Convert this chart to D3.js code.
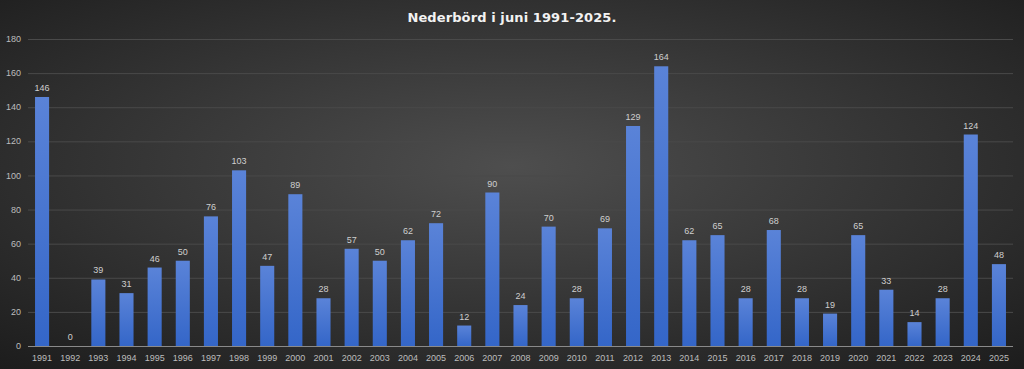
<!DOCTYPE html>
<html>
<head>
<meta charset="utf-8">
<script src="https://cdn.jsdelivr.net/npm/d3@7"></script>
<style>
  html, body { margin: 0; padding: 0; background: #222; }
  svg { display: block; }
</style>
</head>
<body>
<div id="vis"></div>
<script>
// values
const years = ["1991","1992","1993","1994","1995","1996","1997","1998","1999","2000",
  "2001","2002","2003","2004","2005","2006","2007","2008","2009","2010",
  "2011","2012","2013","2014","2015","2016","2017","2018","2019","2020",
  "2021","2022","2023","2024","2025"];
const rain = [146,0,39,31,46,50,76,103,47,89,
  28,57,50,62,72,12,90,24,70,28,
  69,129,164,62,65,28,68,28,19,65,
  33,14,28,124,48];
const yTicks = [0,20,40,60,80,100,120,140,160,180];
const title = "Nederbörd i juni 1991-2025.";

const W = 1024, H = 369;
const margin = {top: 39, right: 11, bottom: 23, left: 28};

var svg = d3.select("#vis")
  .append("svg")
  .attr("width", W)
  .attr("height", H);

var defs = svg.append("defs");
var bg = defs.append("radialGradient")
  .attr("id", "bg")
  .attr("cx", "50%").attr("cy", "45%").attr("r", "75%");
bg.append("stop").attr("offset", "0%").attr("stop-color", "#4e4e4e");
bg.append("stop").attr("offset", "100%").attr("stop-color", "#1c1c1c");

var barGrad = defs.append("linearGradient")
  .attr("id", "bar")
  .attr("x1", 0).attr("y1", 0).attr("x2", 0).attr("y2", 1);
barGrad.append("stop").attr("offset", "0%").attr("stop-color", "#5a83d8");
barGrad.append("stop").attr("offset", "100%").attr("stop-color", "#3466c8");

svg.append("rect")
  .attr("width", W).attr("height", H)
  .attr("fill", "url(#bg)");

var x = d3.scaleBand()
  .domain(years)
  .range([margin.left, W - margin.right])
  .paddingInner(0.5)
  .paddingOuter(0.25);

var y = d3.scaleLinear()
  .domain([0, 180])
  .range([H - margin.bottom, margin.top]);

// gridlines
svg.append("g")
  .selectAll("line")
  .data(yTicks.slice(1))
  .join("line")
  .attr("x1", margin.left)
  .attr("x2", W - margin.right)
  .attr("y1", d => y(d) + 0.5)
  .attr("y2", d => y(d) + 0.5)
  .attr("stroke", "#4a4a4a")
  .attr("stroke-width", 1);

// y axis labels
svg.append("g")
  .selectAll("text")
  .data(yTicks)
  .join("text")
  .attr("x", 21)
  .attr("y", d => y(d))
  .attr("dy", "0.35em")
  .attr("text-anchor", "end")
  .attr("fill", "#bdbdbd")
  .style("font-family", "Arial, Helvetica, sans-serif")
  .style("font-size", "9px")
  .text(d => d);

// bars
svg.append("g")
  .selectAll("rect")
  .data(rain)
  .join("rect")
  .attr("x", (d, i) => x(years[i]))
  .attr("width", x.bandwidth())
  .attr("y", d => y(d))
  .attr("height", d => y(0) - y(d))
  .attr("fill", "url(#bar)");

// value labels
svg.append("g")
  .selectAll("text")
  .data(rain)
  .join("text")
  .attr("x", (d, i) => x(years[i]) + x.bandwidth() / 2)
  .attr("y", d => y(d) - 6)
  .attr("text-anchor", "middle")
  .attr("fill", "#cfcfcf")
  .style("font-family", "Arial, Helvetica, sans-serif")
  .style("font-size", "9px")
  .text(d => d);

// x axis line
svg.append("line")
  .attr("x1", margin.left)
  .attr("x2", W - margin.right)
  .attr("y1", y(0) + 0.5)
  .attr("y2", y(0) + 0.5)
  .attr("stroke", "#8a8a8a")
  .attr("stroke-width", 1);

// x labels
svg.append("g")
  .selectAll("text")
  .data(years)
  .join("text")
  .attr("x", d => x(d) + x.bandwidth() / 2)
  .attr("y", y(0) + 15)
  .attr("text-anchor", "middle")
  .attr("fill", "#bdbdbd")
  .style("font-family", "Arial, Helvetica, sans-serif")
  .style("font-size", "9px")
  .text(d => d);

// title
svg.append("text")
  .attr("x", 512)
  .attr("y", 22)
  .attr("text-anchor", "middle")
  .attr("fill", "#f2f2f2")
  .style("font-family", "'DejaVu Sans', Arial, sans-serif")
  .style("font-weight", "bold")
  .style("font-size", "13px")
  .style("letter-spacing", "0.1px")
  .text(title);
</script>
</body>
</html>
